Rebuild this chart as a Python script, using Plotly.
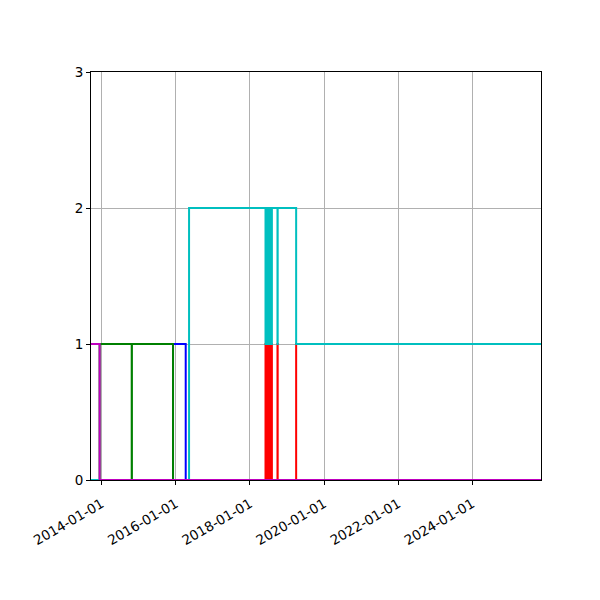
import plotly.graph_objects as go

# ---- data ----
x_start = "2013-09-18"
x_end = "2025-11-07"

magenta_dates = [x_start, "2013-12-12", x_end]
magenta_vals = [1, 0, 0]

green_dates = [x_start, "2013-12-12", "2014-10-24", "2014-10-26", "2015-12-05", x_end]
green_vals = [0, 1, 0, 1, 0, 0]

blue_dates = [x_start, "2015-12-05", "2016-04-08", x_end]
blue_vals = [0, 1, 0, 0]

band_dates = ["2018-06-03", "2018-06-06", "2018-06-09", "2018-06-12", "2018-06-15",
              "2018-06-18", "2018-06-21", "2018-06-24", "2018-06-27", "2018-06-30",
              "2018-07-03", "2018-07-06", "2018-07-09", "2018-07-12", "2018-07-15",
              "2018-07-18", "2018-07-21", "2018-07-24", "2018-07-27", "2018-07-30",
              "2018-08-02", "2018-08-05"]

red_dates = [x_start] + band_dates + ["2018-09-29", "2018-10-01", "2019-04-01", x_end]
red_vals = [0,
            1, 0, 1, 0, 1, 0, 1, 0, 1, 0, 1, 0, 1, 0, 1, 0, 1, 0, 1, 0, 1, 0,
            1, 0, 1, 1]

cyan_dates = [x_start, "2016-05-11"] + band_dates + ["2018-09-29", "2018-10-01", "2019-04-01", x_end]
cyan_vals = [0, 2,
             1, 2, 1, 2, 1, 2, 1, 2, 1, 2, 1, 2, 1, 2, 1, 2, 1, 2, 1, 2, 1, 2,
             1, 2, 1, 1]

x_tick_vals = ["2014-01-01", "2016-01-01", "2018-01-01", "2020-01-01", "2022-01-01", "2024-01-01"]
x_tick_text = ["2014-01-01", "2016-01-01", "2018-01-01", "2020-01-01", "2022-01-01", "2024-01-01"]
y_tick_vals = [0, 1, 2, 3]

# ---- figure ----
series = [
    (blue_dates, blue_vals, "#0000ff"),
    (green_dates, green_vals, "#008000"),
    (red_dates, red_vals, "#ff0000"),
    (cyan_dates, cyan_vals, "#00bfbf"),
    (magenta_dates, magenta_vals, "#bf00bf"),
]

fig = go.Figure()
for xs, ys, col in series:
    fig.add_trace(go.Scatter(x=xs, y=ys, mode="lines",
                             line=dict(color=col, width=2, shape="hv"),
                             showlegend=False, hoverinfo="skip"))

fig.update_layout(
    width=600, height=600,
    margin=dict(l=83, r=67, t=64, b=128),
    plot_bgcolor="white", paper_bgcolor="white",
    font=dict(family="DejaVu Sans", size=13.5, color="black"),
)
fig.update_xaxes(
    type="date", range=[x_start, x_end],
    tickvals=x_tick_vals, ticktext=x_tick_text, tickangle=-30,
    ticklabelstandoff=6,
    showgrid=True, gridcolor="#b0b0b0", gridwidth=1,
    showline=True, linecolor="black", linewidth=1, mirror=True,
    ticks="outside", ticklen=4, tickcolor="black", zeroline=False,
)
fig.update_yaxes(
    range=[0, 3], tickvals=y_tick_vals,
    showgrid=True, gridcolor="#b0b0b0", gridwidth=1,
    showline=True, linecolor="black", linewidth=1, mirror=True,
    ticks="outside", ticklen=4, tickcolor="black", zeroline=False,
)

fig.write_html("out.html")
